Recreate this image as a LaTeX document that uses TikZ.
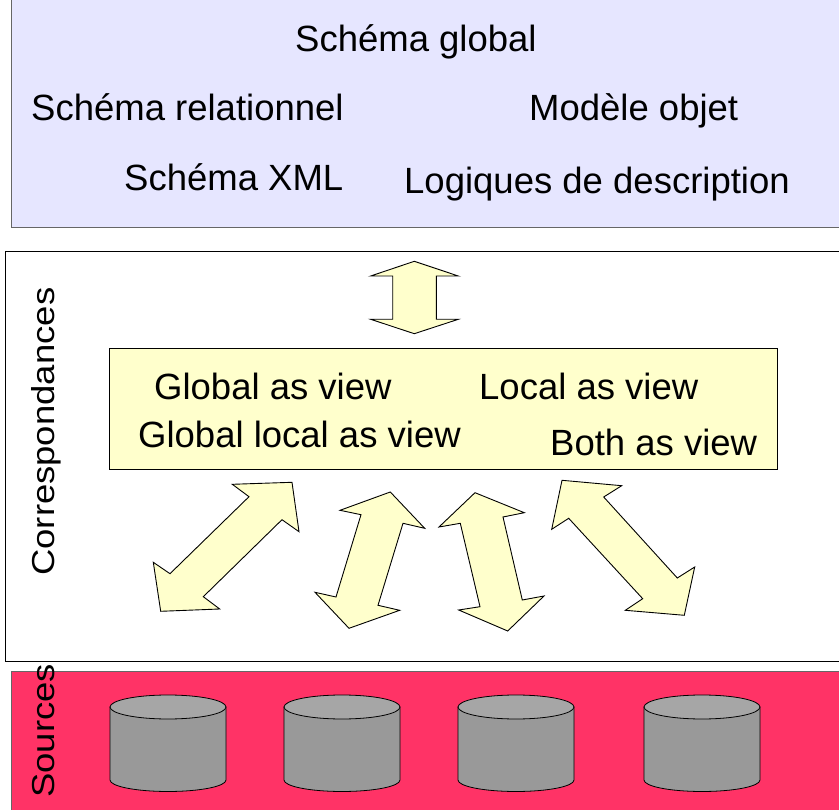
\documentclass[tikz,border=0pt]{standalone}
\usepackage{fontspec}
\setmainfont{Liberation Sans}
\definecolor{lavande}{HTML}{E6E6FF}
\definecolor{jaune}{HTML}{FFFFCC}
\definecolor{rouge}{HTML}{FF3366}
\definecolor{disque}{HTML}{999999}
\definecolor{disquehaut}{HTML}{A6A6A6}
\begin{document}
\begin{tikzpicture}[x=1pt,y=-1pt]
\tikzstyle{band}=[draw=black!60, line width=1pt]
\tikzstyle{label}=[inner sep=0pt, anchor=base west, font=\fontsize{36.5}{40}\selectfont]
\tikzstyle{sidelabel}=[label, rotate=90, yscale=0.87]
\tikzstyle{flow}=[draw, fill=jaune, line width=0.9pt, line join=miter]
\tikzstyle{disk}=[draw, fill=disque, line width=0.8pt]
\tikzstyle{disktop}=[draw, fill=disquehaut, line width=0.8pt]
\useasboundingbox (0,0) rectangle (839,810);

% Bands
\draw[band, fill=lavande] (11,-3) rectangle (842,228);
\draw[line width=1pt, fill=white] (5,252) rectangle (842,661);
\draw[band, fill=rouge] (11,671) rectangle (842,813);
\node[draw, fill=jaune, line width=0.8pt, minimum width=668pt, minimum height=121pt, inner sep=0pt] (mappings) at (443,408.5) {};

% Global schema labels
\node[label] (global) at (295,52) {Schéma global};
\node[label] (relational) at (31,121) {Schéma relationnel};
\node[label] (object) at (529,121) {Modèle objet};
\node[label] (xml) at (124,191) {Schéma XML};
\node[label] (logics) at (404,194) {Logiques de description};

% Mapping labels
\node[label] (gav) at (154,400) {Global as view};
\node[label] (lav) at (479,399.5) {Local as view};
\node[label] (glav) at (138,448) {Global local as view};
\node[label] (bav) at (550,456) {Both as view};

% Side labels
\node[sidelabel] (corresp) at (54.5,576) {Correspondances};
\node[sidelabel] (sources) at (54.5,798) {Sources};

% Double arrows
\draw[flow] (414.3,261.3) -- (458.3,276) -- (436.3,276) -- (436.3,319.3) -- (458.3,319.3) -- (414.3,333.7) -- (370.7,319.3) -- (392.7,319.3) -- (392.7,276) -- (370.7,276) -- cycle;
\draw[flow] (232.3,484.3) -- (292,482.3) -- (299,531.7) -- (282,519.7) -- (203.3,596.7) -- (219.7,609) -- (160.7,611.3) -- (153.3,562.3) -- (170,573.7) -- (249,496.7) -- cycle;
\draw[flow] (390.3,492) -- (424.7,528.3) -- (403,523.3) -- (378,605.3) -- (399.7,610.3) -- (349,628.3) -- (315,592.3) -- (336,597) -- (361,514.7) -- (340,510.3) -- cycle;
\draw[flow] (475,492.7) -- (524.3,512.7) -- (503,517) -- (522.3,600) -- (544,596) -- (507.7,631) -- (458.7,610) -- (480,606.7) -- (460.3,523.3) -- (439,527) -- cycle;
\draw[flow] (562,480.3) -- (621.7,485.7) -- (603.7,497) -- (677.3,578) -- (694.7,567) -- (684.3,615.3) -- (625.3,610.3) -- (642.7,598.7) -- (568.7,518.3) -- (551.7,529.3) -- cycle;

% Disks
\draw[disk] (110,707) -- (110,780) arc[start angle=180, end angle=0, x radius=58, y radius=11.5] -- (226,707) -- cycle;
\draw[disktop] (168,707) ellipse [x radius=58, y radius=12];
\draw[disk] (284,707) -- (284,780) arc[start angle=180, end angle=0, x radius=58, y radius=11.5] -- (400,707) -- cycle;
\draw[disktop] (342,707) ellipse [x radius=58, y radius=12];
\draw[disk] (458,707) -- (458,780) arc[start angle=180, end angle=0, x radius=58, y radius=11.5] -- (574,707) -- cycle;
\draw[disktop] (516,707) ellipse [x radius=58, y radius=12];
\draw[disk] (644,707) -- (644,780) arc[start angle=180, end angle=0, x radius=58, y radius=11.5] -- (760,707) -- cycle;
\draw[disktop] (702,707) ellipse [x radius=58, y radius=12];
\end{tikzpicture}
\end{document}
